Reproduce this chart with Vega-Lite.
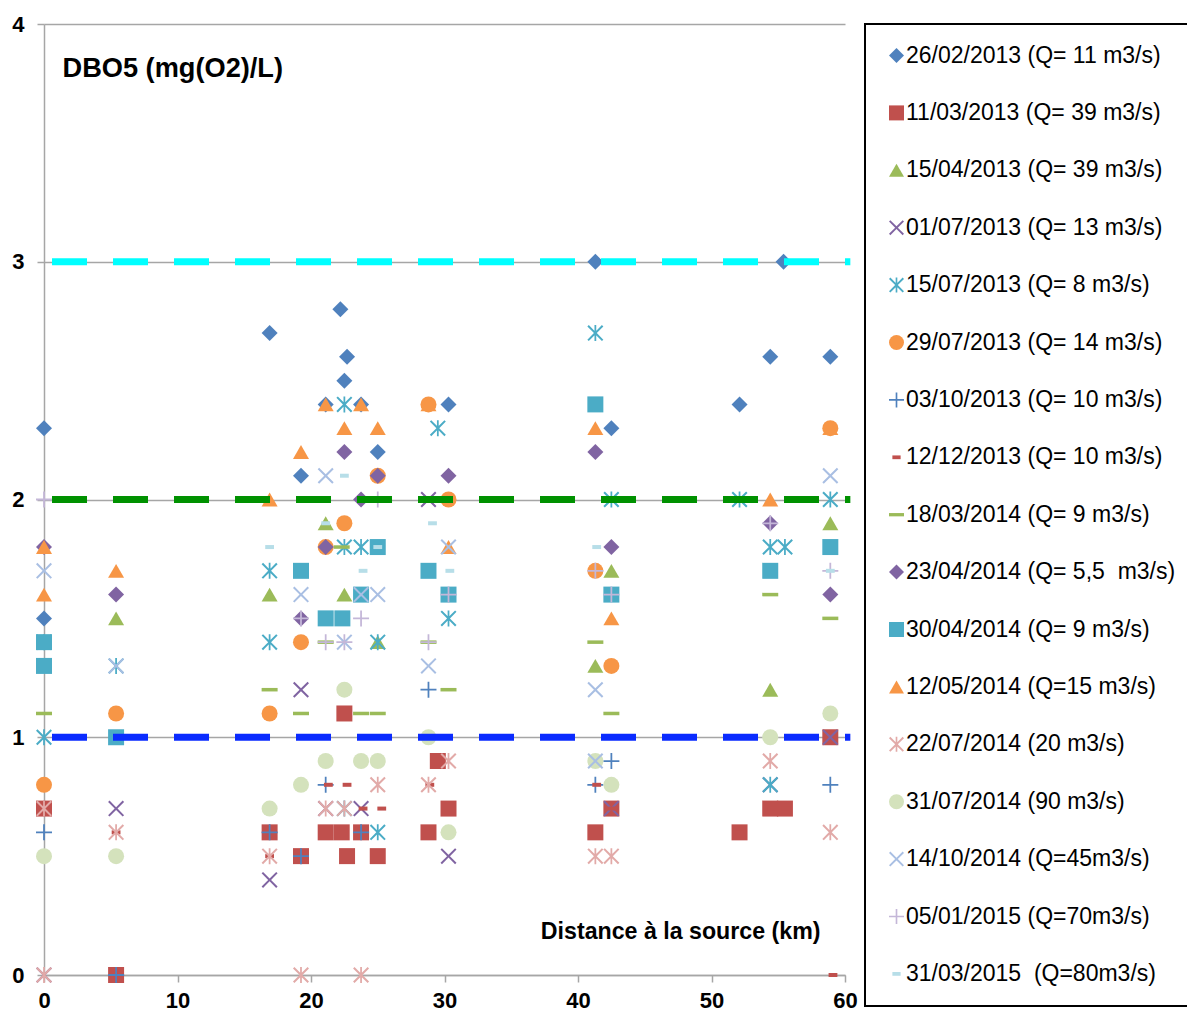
{
 "$schema": "https://vega.github.io/schema/vega-lite/v6.json",
 "width": 801, "height": 951,
 "autosize": "none",
 "padding": {"left": 44, "top": 24, "right": 342, "bottom": 39},
 "background": "white",
 "config": {"view": {"stroke": null}, "font": "Liberation Sans", "legend": {"strokeWidth": 2}},
 "datasets": {
  "seuils": [
   {"v": 3, "x0": 0.6, "x1": 60.4, "c": "#00FFFF"},
   {"v": 2, "x0": 0.6, "x1": 60.4, "c": "#009100"},
   {"v": 1, "x0": 0.6, "x1": 60.4, "c": "#0A2BFF"}
  ],
  "pts": [
   {"s":"26/02/2013 (Q= 11 m3/s)","x":0,"y":2.3},{"s":"26/02/2013 (Q= 11 m3/s)","x":0,"y":1.5},{"s":"26/02/2013 (Q= 11 m3/s)","x":16.9,"y":2.7},{"s":"26/02/2013 (Q= 11 m3/s)","x":19.25,"y":2.1},{"s":"26/02/2013 (Q= 11 m3/s)","x":21.1,"y":2.4},{"s":"26/02/2013 (Q= 11 m3/s)","x":22.2,"y":2.8},{"s":"26/02/2013 (Q= 11 m3/s)","x":22.7,"y":2.6},{"s":"26/02/2013 (Q= 11 m3/s)","x":22.5,"y":2.5},{"s":"26/02/2013 (Q= 11 m3/s)","x":23.75,"y":2.4},{"s":"26/02/2013 (Q= 11 m3/s)","x":25,"y":2.2},{"s":"26/02/2013 (Q= 11 m3/s)","x":30.3,"y":2.4},{"s":"26/02/2013 (Q= 11 m3/s)","x":41.3,"y":3.0},{"s":"26/02/2013 (Q= 11 m3/s)","x":42.5,"y":2.3},{"s":"26/02/2013 (Q= 11 m3/s)","x":52.1,"y":2.4},{"s":"26/02/2013 (Q= 11 m3/s)","x":54.4,"y":2.6},{"s":"26/02/2013 (Q= 11 m3/s)","x":55.4,"y":3.0},{"s":"26/02/2013 (Q= 11 m3/s)","x":58.9,"y":2.6},
   {"s":"11/03/2013 (Q= 39 m3/s)","x":0,"y":0.7},{"s":"11/03/2013 (Q= 39 m3/s)","x":5.4,"y":0},{"s":"11/03/2013 (Q= 39 m3/s)","x":16.9,"y":0.6},{"s":"11/03/2013 (Q= 39 m3/s)","x":19.25,"y":0.5},{"s":"11/03/2013 (Q= 39 m3/s)","x":21.1,"y":0.6},{"s":"11/03/2013 (Q= 39 m3/s)","x":22.3,"y":0.6},{"s":"11/03/2013 (Q= 39 m3/s)","x":22.5,"y":1.1},{"s":"11/03/2013 (Q= 39 m3/s)","x":22.7,"y":0.5},{"s":"11/03/2013 (Q= 39 m3/s)","x":23.75,"y":0.6},{"s":"11/03/2013 (Q= 39 m3/s)","x":25,"y":0.5},{"s":"11/03/2013 (Q= 39 m3/s)","x":29.5,"y":0.9},{"s":"11/03/2013 (Q= 39 m3/s)","x":30.3,"y":0.7},{"s":"11/03/2013 (Q= 39 m3/s)","x":28.8,"y":0.6},{"s":"11/03/2013 (Q= 39 m3/s)","x":41.3,"y":0.6},{"s":"11/03/2013 (Q= 39 m3/s)","x":42.5,"y":0.7},{"s":"11/03/2013 (Q= 39 m3/s)","x":52.1,"y":0.6},{"s":"11/03/2013 (Q= 39 m3/s)","x":54.4,"y":0.7},{"s":"11/03/2013 (Q= 39 m3/s)","x":55.5,"y":0.7},{"s":"11/03/2013 (Q= 39 m3/s)","x":58.9,"y":1.0},
   {"s":"15/04/2013 (Q= 39 m3/s)","x":5.4,"y":1.5},{"s":"15/04/2013 (Q= 39 m3/s)","x":16.9,"y":1.6},{"s":"15/04/2013 (Q= 39 m3/s)","x":21.1,"y":1.9},{"s":"15/04/2013 (Q= 39 m3/s)","x":22.5,"y":1.6},{"s":"15/04/2013 (Q= 39 m3/s)","x":25,"y":1.4},{"s":"15/04/2013 (Q= 39 m3/s)","x":41.3,"y":1.3},{"s":"15/04/2013 (Q= 39 m3/s)","x":42.5,"y":1.7},{"s":"15/04/2013 (Q= 39 m3/s)","x":54.4,"y":1.2},{"s":"15/04/2013 (Q= 39 m3/s)","x":58.9,"y":1.9},
   {"s":"01/07/2013 (Q= 13 m3/s)","x":0,"y":0},{"s":"01/07/2013 (Q= 13 m3/s)","x":5.4,"y":0.7},{"s":"01/07/2013 (Q= 13 m3/s)","x":16.9,"y":0.4},{"s":"01/07/2013 (Q= 13 m3/s)","x":19.25,"y":1.2},{"s":"01/07/2013 (Q= 13 m3/s)","x":21.1,"y":0.7},{"s":"01/07/2013 (Q= 13 m3/s)","x":23.75,"y":0.7},{"s":"01/07/2013 (Q= 13 m3/s)","x":28.8,"y":2.0},{"s":"01/07/2013 (Q= 13 m3/s)","x":30.3,"y":0.5},{"s":"01/07/2013 (Q= 13 m3/s)","x":42.5,"y":0.7},{"s":"01/07/2013 (Q= 13 m3/s)","x":54.4,"y":0.8},{"s":"01/07/2013 (Q= 13 m3/s)","x":58.9,"y":1.0},
   {"s":"15/07/2013 (Q= 8 m3/s)","x":0,"y":1.0},{"s":"15/07/2013 (Q= 8 m3/s)","x":0,"y":1.4},{"s":"15/07/2013 (Q= 8 m3/s)","x":5.4,"y":1.3},{"s":"15/07/2013 (Q= 8 m3/s)","x":16.9,"y":1.7},{"s":"15/07/2013 (Q= 8 m3/s)","x":16.9,"y":1.4},{"s":"15/07/2013 (Q= 8 m3/s)","x":22.5,"y":2.4},{"s":"15/07/2013 (Q= 8 m3/s)","x":22.5,"y":1.8},{"s":"15/07/2013 (Q= 8 m3/s)","x":23.75,"y":1.8},{"s":"15/07/2013 (Q= 8 m3/s)","x":22.5,"y":0.7},{"s":"15/07/2013 (Q= 8 m3/s)","x":25,"y":1.4},{"s":"15/07/2013 (Q= 8 m3/s)","x":25,"y":0.6},{"s":"15/07/2013 (Q= 8 m3/s)","x":29.5,"y":2.3},{"s":"15/07/2013 (Q= 8 m3/s)","x":30.3,"y":1.5},{"s":"15/07/2013 (Q= 8 m3/s)","x":41.3,"y":2.7},{"s":"15/07/2013 (Q= 8 m3/s)","x":42.5,"y":2.0},{"s":"15/07/2013 (Q= 8 m3/s)","x":52.1,"y":2.0},{"s":"15/07/2013 (Q= 8 m3/s)","x":54.4,"y":1.8},{"s":"15/07/2013 (Q= 8 m3/s)","x":55.5,"y":1.8},{"s":"15/07/2013 (Q= 8 m3/s)","x":54.4,"y":0.8},{"s":"15/07/2013 (Q= 8 m3/s)","x":58.9,"y":2.0},
   {"s":"29/07/2013 (Q= 14 m3/s)","x":0,"y":0.8},{"s":"29/07/2013 (Q= 14 m3/s)","x":5.4,"y":1.1},{"s":"29/07/2013 (Q= 14 m3/s)","x":16.9,"y":1.1},{"s":"29/07/2013 (Q= 14 m3/s)","x":19.25,"y":1.4},{"s":"29/07/2013 (Q= 14 m3/s)","x":21.1,"y":1.8},{"s":"29/07/2013 (Q= 14 m3/s)","x":22.5,"y":1.9},{"s":"29/07/2013 (Q= 14 m3/s)","x":25,"y":2.1},{"s":"29/07/2013 (Q= 14 m3/s)","x":28.8,"y":2.4},{"s":"29/07/2013 (Q= 14 m3/s)","x":30.3,"y":2.0},{"s":"29/07/2013 (Q= 14 m3/s)","x":41.3,"y":1.7},{"s":"29/07/2013 (Q= 14 m3/s)","x":42.5,"y":1.3},{"s":"29/07/2013 (Q= 14 m3/s)","x":58.9,"y":2.3},
   {"s":"03/10/2013 (Q= 10 m3/s)","x":0,"y":0.6},{"s":"03/10/2013 (Q= 10 m3/s)","x":5.4,"y":0},{"s":"03/10/2013 (Q= 10 m3/s)","x":16.9,"y":0.6},{"s":"03/10/2013 (Q= 10 m3/s)","x":19.25,"y":0.5},{"s":"03/10/2013 (Q= 10 m3/s)","x":21.1,"y":0.8},{"s":"03/10/2013 (Q= 10 m3/s)","x":23.75,"y":0.6},{"s":"03/10/2013 (Q= 10 m3/s)","x":28.8,"y":1.2},{"s":"03/10/2013 (Q= 10 m3/s)","x":41.3,"y":0.8},{"s":"03/10/2013 (Q= 10 m3/s)","x":42.5,"y":0.9},{"s":"03/10/2013 (Q= 10 m3/s)","x":58.9,"y":0.8},
   {"s":"12/12/2013 (Q= 10 m3/s)","x":5.4,"y":0.6},{"s":"12/12/2013 (Q= 10 m3/s)","x":16.9,"y":0.5},{"s":"12/12/2013 (Q= 10 m3/s)","x":21.3,"y":0.8},{"s":"12/12/2013 (Q= 10 m3/s)","x":22.7,"y":0.8},{"s":"12/12/2013 (Q= 10 m3/s)","x":23.9,"y":0.7},{"s":"12/12/2013 (Q= 10 m3/s)","x":25.3,"y":0.7},{"s":"12/12/2013 (Q= 10 m3/s)","x":28.9,"y":0.8},{"s":"12/12/2013 (Q= 10 m3/s)","x":41.4,"y":0.8},{"s":"12/12/2013 (Q= 10 m3/s)","x":42.6,"y":0.7},{"s":"12/12/2013 (Q= 10 m3/s)","x":52.1,"y":0.6},{"s":"12/12/2013 (Q= 10 m3/s)","x":54.5,"y":0.7},{"s":"12/12/2013 (Q= 10 m3/s)","x":55.6,"y":0.7},{"s":"12/12/2013 (Q= 10 m3/s)","x":59.1,"y":0},
   {"s":"18/03/2014 (Q= 9 m3/s)","x":0,"y":1.1},{"s":"18/03/2014 (Q= 9 m3/s)","x":16.9,"y":1.2},{"s":"18/03/2014 (Q= 9 m3/s)","x":19.25,"y":1.1},{"s":"18/03/2014 (Q= 9 m3/s)","x":21.1,"y":1.4},{"s":"18/03/2014 (Q= 9 m3/s)","x":22.3,"y":1.8},{"s":"18/03/2014 (Q= 9 m3/s)","x":23.75,"y":1.1},{"s":"18/03/2014 (Q= 9 m3/s)","x":25,"y":1.1},{"s":"18/03/2014 (Q= 9 m3/s)","x":28.8,"y":1.4},{"s":"18/03/2014 (Q= 9 m3/s)","x":30.3,"y":1.2},{"s":"18/03/2014 (Q= 9 m3/s)","x":41.3,"y":1.4},{"s":"18/03/2014 (Q= 9 m3/s)","x":42.5,"y":1.1},{"s":"18/03/2014 (Q= 9 m3/s)","x":54.4,"y":1.6},{"s":"18/03/2014 (Q= 9 m3/s)","x":58.9,"y":1.5},
   {"s":"23/04/2014 (Q= 5,5\u00a0 m3/s)","x":0,"y":1.8},{"s":"23/04/2014 (Q= 5,5\u00a0 m3/s)","x":5.4,"y":1.6},{"s":"23/04/2014 (Q= 5,5\u00a0 m3/s)","x":19.25,"y":1.5},{"s":"23/04/2014 (Q= 5,5\u00a0 m3/s)","x":21.1,"y":1.8},{"s":"23/04/2014 (Q= 5,5\u00a0 m3/s)","x":22.5,"y":2.2},{"s":"23/04/2014 (Q= 5,5\u00a0 m3/s)","x":23.75,"y":2.0},{"s":"23/04/2014 (Q= 5,5\u00a0 m3/s)","x":25,"y":2.1},{"s":"23/04/2014 (Q= 5,5\u00a0 m3/s)","x":30.3,"y":2.1},{"s":"23/04/2014 (Q= 5,5\u00a0 m3/s)","x":41.3,"y":2.2},{"s":"23/04/2014 (Q= 5,5\u00a0 m3/s)","x":42.5,"y":1.8},{"s":"23/04/2014 (Q= 5,5\u00a0 m3/s)","x":54.4,"y":1.9},{"s":"23/04/2014 (Q= 5,5\u00a0 m3/s)","x":58.9,"y":1.6},
   {"s":"30/04/2014 (Q= 9 m3/s)","x":0,"y":1.4},{"s":"30/04/2014 (Q= 9 m3/s)","x":0,"y":1.3},{"s":"30/04/2014 (Q= 9 m3/s)","x":5.4,"y":1.0},{"s":"30/04/2014 (Q= 9 m3/s)","x":19.25,"y":1.7},{"s":"30/04/2014 (Q= 9 m3/s)","x":21.1,"y":1.5},{"s":"30/04/2014 (Q= 9 m3/s)","x":22.35,"y":1.5},{"s":"30/04/2014 (Q= 9 m3/s)","x":23.75,"y":1.6},{"s":"30/04/2014 (Q= 9 m3/s)","x":25,"y":1.8},{"s":"30/04/2014 (Q= 9 m3/s)","x":28.8,"y":1.7},{"s":"30/04/2014 (Q= 9 m3/s)","x":30.3,"y":1.6},{"s":"30/04/2014 (Q= 9 m3/s)","x":41.3,"y":2.4},{"s":"30/04/2014 (Q= 9 m3/s)","x":42.5,"y":1.6},{"s":"30/04/2014 (Q= 9 m3/s)","x":54.4,"y":1.7},{"s":"30/04/2014 (Q= 9 m3/s)","x":58.9,"y":1.8},
   {"s":"12/05/2014 (Q=15 m3/s)","x":0,"y":1.8},{"s":"12/05/2014 (Q=15 m3/s)","x":0,"y":1.6},{"s":"12/05/2014 (Q=15 m3/s)","x":5.4,"y":1.7},{"s":"12/05/2014 (Q=15 m3/s)","x":16.9,"y":2.0},{"s":"12/05/2014 (Q=15 m3/s)","x":19.25,"y":2.2},{"s":"12/05/2014 (Q=15 m3/s)","x":21.1,"y":2.4},{"s":"12/05/2014 (Q=15 m3/s)","x":22.5,"y":2.3},{"s":"12/05/2014 (Q=15 m3/s)","x":23.75,"y":2.4},{"s":"12/05/2014 (Q=15 m3/s)","x":25,"y":2.3},{"s":"12/05/2014 (Q=15 m3/s)","x":28.8,"y":2.4},{"s":"12/05/2014 (Q=15 m3/s)","x":30.3,"y":1.8},{"s":"12/05/2014 (Q=15 m3/s)","x":41.3,"y":2.3},{"s":"12/05/2014 (Q=15 m3/s)","x":42.5,"y":1.5},{"s":"12/05/2014 (Q=15 m3/s)","x":54.4,"y":2.0},{"s":"12/05/2014 (Q=15 m3/s)","x":58.9,"y":2.3},
   {"s":"22/07/2014 (20 m3/s)","x":0,"y":0.7},{"s":"22/07/2014 (20 m3/s)","x":0,"y":0},{"s":"22/07/2014 (20 m3/s)","x":5.4,"y":0.6},{"s":"22/07/2014 (20 m3/s)","x":16.9,"y":0.5},{"s":"22/07/2014 (20 m3/s)","x":19.25,"y":0},{"s":"22/07/2014 (20 m3/s)","x":21.1,"y":0.7},{"s":"22/07/2014 (20 m3/s)","x":22.5,"y":0.7},{"s":"22/07/2014 (20 m3/s)","x":23.75,"y":0},{"s":"22/07/2014 (20 m3/s)","x":25,"y":0.8},{"s":"22/07/2014 (20 m3/s)","x":28.8,"y":0.8},{"s":"22/07/2014 (20 m3/s)","x":30.3,"y":0.9},{"s":"22/07/2014 (20 m3/s)","x":41.3,"y":0.5},{"s":"22/07/2014 (20 m3/s)","x":42.5,"y":0.5},{"s":"22/07/2014 (20 m3/s)","x":54.4,"y":0.9},{"s":"22/07/2014 (20 m3/s)","x":58.9,"y":0.6},
   {"s":"31/07/2014 (90 m3/s)","x":0,"y":0.5},{"s":"31/07/2014 (90 m3/s)","x":5.4,"y":0.5},{"s":"31/07/2014 (90 m3/s)","x":16.9,"y":0.7},{"s":"31/07/2014 (90 m3/s)","x":19.25,"y":0.8},{"s":"31/07/2014 (90 m3/s)","x":21.1,"y":0.9},{"s":"31/07/2014 (90 m3/s)","x":22.5,"y":1.2},{"s":"31/07/2014 (90 m3/s)","x":23.75,"y":0.9},{"s":"31/07/2014 (90 m3/s)","x":25,"y":0.9},{"s":"31/07/2014 (90 m3/s)","x":28.8,"y":1.0},{"s":"31/07/2014 (90 m3/s)","x":30.3,"y":0.6},{"s":"31/07/2014 (90 m3/s)","x":41.3,"y":0.9},{"s":"31/07/2014 (90 m3/s)","x":42.5,"y":0.8},{"s":"31/07/2014 (90 m3/s)","x":54.4,"y":1.0},{"s":"31/07/2014 (90 m3/s)","x":58.9,"y":1.1},
   {"s":"14/10/2014 (Q=45m3/s)","x":0,"y":1.7},{"s":"14/10/2014 (Q=45m3/s)","x":5.4,"y":1.3},{"s":"14/10/2014 (Q=45m3/s)","x":19.25,"y":1.6},{"s":"14/10/2014 (Q=45m3/s)","x":21.1,"y":2.1},{"s":"14/10/2014 (Q=45m3/s)","x":22.5,"y":1.4},{"s":"14/10/2014 (Q=45m3/s)","x":23.75,"y":1.6},{"s":"14/10/2014 (Q=45m3/s)","x":25,"y":1.6},{"s":"14/10/2014 (Q=45m3/s)","x":28.8,"y":1.3},{"s":"14/10/2014 (Q=45m3/s)","x":30.3,"y":1.8},{"s":"14/10/2014 (Q=45m3/s)","x":41.3,"y":1.2},{"s":"14/10/2014 (Q=45m3/s)","x":41.3,"y":0.9},{"s":"14/10/2014 (Q=45m3/s)","x":58.9,"y":2.1},
   {"s":"05/01/2015 (Q=70m3/s)","x":0,"y":2.0},{"s":"05/01/2015 (Q=70m3/s)","x":19.25,"y":1.5},{"s":"05/01/2015 (Q=70m3/s)","x":21.1,"y":1.4},{"s":"05/01/2015 (Q=70m3/s)","x":22.5,"y":1.4},{"s":"05/01/2015 (Q=70m3/s)","x":23.75,"y":1.5},{"s":"05/01/2015 (Q=70m3/s)","x":25,"y":2.0},{"s":"05/01/2015 (Q=70m3/s)","x":28.8,"y":1.4},{"s":"05/01/2015 (Q=70m3/s)","x":30.3,"y":1.6},{"s":"05/01/2015 (Q=70m3/s)","x":41.3,"y":1.7},{"s":"05/01/2015 (Q=70m3/s)","x":42.5,"y":1.6},{"s":"05/01/2015 (Q=70m3/s)","x":54.4,"y":1.9},{"s":"05/01/2015 (Q=70m3/s)","x":58.9,"y":1.7},
   {"s":"31/03/2015\u00a0 (Q=80m3/s)","x":16.9,"y":1.8},{"s":"31/03/2015\u00a0 (Q=80m3/s)","x":21.1,"y":1.9},{"s":"31/03/2015\u00a0 (Q=80m3/s)","x":22.5,"y":2.1},{"s":"31/03/2015\u00a0 (Q=80m3/s)","x":23.9,"y":1.7},{"s":"31/03/2015\u00a0 (Q=80m3/s)","x":25,"y":1.8},{"s":"31/03/2015\u00a0 (Q=80m3/s)","x":29.1,"y":1.9},{"s":"31/03/2015\u00a0 (Q=80m3/s)","x":30.4,"y":1.7},{"s":"31/03/2015\u00a0 (Q=80m3/s)","x":41.4,"y":1.8},{"s":"31/03/2015\u00a0 (Q=80m3/s)","x":58.9,"y":1.7}
  ]
 },
 "layer": [
  {
   "data": {"name": "pts"},
   "mark": {"type": "point", "filled": true, "opacity": 1, "size": 256, "strokeWidth": 0},
   "encoding": {
    "x": {"field": "x", "type": "quantitative",
     "scale": {"domain": [0, 60], "nice": false, "zero": true},
     "axis": {"values": [0, 10, 20, 30, 40, 50, 60], "format": "d", "grid": false,
      "domainColor": "#A6A6A6", "domainWidth": 1.5, "tickColor": "#A6A6A6", "tickSize": 7, "tickWidth": 1.5,
      "labelFont": "Liberation Sans", "labelFontWeight": "bold", "labelFontSize": 22, "labelColor": "black", "labelPadding": 8, "labelFlush": false,
      "title": "Distance à la source (km)", "titleFont": "Liberation Sans", "titleFontSize": 23.2, "titleFontWeight": "bold", "titleColor": "black",
      "titleAlign": "right", "titleAnchor": "end", "titleX": 776, "titleY": -44, "titleBaseline": "middle"}},
    "y": {"field": "y", "type": "quantitative",
     "scale": {"domain": [0, 4], "nice": false, "zero": true},
     "axis": {"values": [0, 1, 2, 3, 4], "format": "d", "grid": true, "gridColor": "#A6A6A6", "gridWidth": 1.5,
      "domainColor": "#A6A6A6", "domainWidth": 1.5, "tickColor": "#A6A6A6", "tickSize": 7, "tickWidth": 1.5,
      "labelFont": "Liberation Sans", "labelFontWeight": "bold", "labelFontSize": 22, "labelColor": "black", "labelPadding": 13, "labelFlush": false,
      "title": "DBO5 (mg(O2)/L)", "titleFont": "Liberation Sans", "titleFontSize": 27.2, "titleFontWeight": "bold", "titleColor": "black",
      "titleAngle": 0, "titleAlign": "left", "titleBaseline": "middle", "titleX": 18, "titleY": 44}},
    "color": {"field": "s", "type": "nominal",
     "scale": {
      "domain": ["26/02/2013 (Q= 11 m3/s)", "11/03/2013 (Q= 39 m3/s)", "15/04/2013 (Q= 39 m3/s)", "01/07/2013 (Q= 13 m3/s)", "15/07/2013 (Q= 8 m3/s)", "29/07/2013 (Q= 14 m3/s)", "03/10/2013 (Q= 10 m3/s)", "12/12/2013 (Q= 10 m3/s)", "18/03/2014 (Q= 9 m3/s)", "23/04/2014 (Q= 5,5\u00a0 m3/s)", "30/04/2014 (Q= 9 m3/s)", "12/05/2014 (Q=15 m3/s)", "22/07/2014 (20 m3/s)", "31/07/2014 (90 m3/s)", "14/10/2014 (Q=45m3/s)", "05/01/2015 (Q=70m3/s)", "31/03/2015\u00a0 (Q=80m3/s)"],
      "range": ["#4F81BD", "#C0504D", "#9BBB59", "#8064A2", "#4BACC6", "#F79646", "#4F81BD", "#C0504D", "#9BBB59", "#8064A2", "#4BACC6", "#F79646", "#E2AAA8", "#D4E2BC", "#A9BFE3", "#C4B7D8", "#B7DEE8"]},
     "legend": {"orient": "none", "legendX": 821, "legendY": 0, "title": null, "padding": 20, "rowPadding": 33.4,
      "symbolSize": 225, "symbolStrokeWidth": 0, "labelFont": "Liberation Sans", "labelFontSize": 23, "labelColor": "black",
      "labelOffset": -2, "labelLimit": 500, "strokeColor": "black", "fillColor": "white"}},
    "shape": {"field": "s", "type": "nominal",
     "scale": {
      "domain": ["26/02/2013 (Q= 11 m3/s)", "11/03/2013 (Q= 39 m3/s)", "15/04/2013 (Q= 39 m3/s)", "01/07/2013 (Q= 13 m3/s)", "15/07/2013 (Q= 8 m3/s)", "29/07/2013 (Q= 14 m3/s)", "03/10/2013 (Q= 10 m3/s)", "12/12/2013 (Q= 10 m3/s)", "18/03/2014 (Q= 9 m3/s)", "23/04/2014 (Q= 5,5\u00a0 m3/s)", "30/04/2014 (Q= 9 m3/s)", "12/05/2014 (Q=15 m3/s)", "22/07/2014 (20 m3/s)", "31/07/2014 (90 m3/s)", "14/10/2014 (Q=45m3/s)", "05/01/2015 (Q=70m3/s)", "31/03/2015\u00a0 (Q=80m3/s)"],
      "range": [
       "diamond", "square", "triangle-up",
       "M-1,-0.82L-0.82,-1L0,-0.18L0.82,-1L1,-0.82L0.18,0L1,0.82L0.82,1L0,0.18L-0.82,1L-1,0.82L-0.18,0Z",
       "M-1,-0.82L-0.82,-1L0,-0.18L0.82,-1L1,-0.82L0.18,0L1,0.82L0.82,1L0,0.18L-0.82,1L-1,0.82L-0.18,0ZM-0.11,-1L0.11,-1L0.11,1L-0.11,1Z",
       "circle",
       "M-0.11,-1L0.11,-1L0.11,-0.11L1,-0.11L1,0.11L0.11,0.11L0.11,1L-0.11,1L-0.11,0.11L-1,0.11L-1,-0.11L-0.11,-0.11Z",
       "M-0.55,-0.25L0.55,-0.25L0.55,0.25L-0.55,0.25Z",
       "M-1,-0.22L1,-0.22L1,0.22L-1,0.22Z",
       "diamond", "square", "triangle-up",
       "M-1,-0.82L-0.82,-1L0,-0.18L0.82,-1L1,-0.82L0.18,0L1,0.82L0.82,1L0,0.18L-0.82,1L-1,0.82L-0.18,0ZM-0.11,-1L0.11,-1L0.11,1L-0.11,1Z",
       "circle",
       "M-1,-0.82L-0.82,-1L0,-0.18L0.82,-1L1,-0.82L0.18,0L1,0.82L0.82,1L0,0.18L-0.82,1L-1,0.82L-0.18,0Z",
       "M-0.11,-1L0.11,-1L0.11,-0.11L1,-0.11L1,0.11L0.11,0.11L0.11,1L-0.11,1L-0.11,0.11L-1,0.11L-1,-0.11L-0.11,-0.11Z",
       "M-0.55,-0.25L0.55,-0.25L0.55,0.25L-0.55,0.25Z"]},
     "legend": {"orient": "none", "legendX": 821, "legendY": 0, "title": null, "padding": 20, "rowPadding": 33.4,
      "symbolSize": 225, "symbolStrokeWidth": 0, "labelFont": "Liberation Sans", "labelFontSize": 23, "labelColor": "black",
      "labelOffset": -2, "labelLimit": 500, "strokeColor": "black", "fillColor": "white"}}
   }
  },
  {
   "data": {"name": "seuils"},
   "mark": {"type": "rule", "strokeWidth": 7, "strokeDash": [35, 26], "strokeCap": "butt"},
   "encoding": {
    "x": {"field": "x0", "type": "quantitative"},
    "x2": {"field": "x1"},
    "y": {"field": "v", "type": "quantitative"},
    "stroke": {"field": "c", "type": "nominal", "scale": null}
   }
  }
 ]
}
